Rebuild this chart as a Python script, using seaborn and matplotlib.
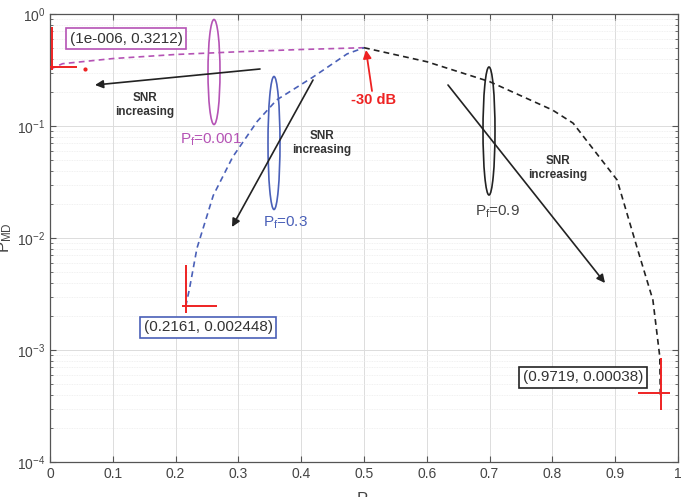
import numpy as np
import pandas as pd
import matplotlib
matplotlib.use("Agg")
import matplotlib.pyplot as plt
from matplotlib.patches import Ellipse
import seaborn as sns

# ---- data ----
pf001_x = [0.000001, 0.02, 0.1, 0.2, 0.3, 0.4, 0.5]
pf001_y = [0.3212, 0.36, 0.40, 0.435, 0.46, 0.482, 0.5]

pf03_x = [0.2161, 0.222, 0.234, 0.26, 0.291, 0.33, 0.361, 0.419, 0.473, 0.5]
pf03_y = [0.002448, 0.0035, 0.0081, 0.024, 0.053, 0.11, 0.171, 0.274, 0.44, 0.5]

pf09_x = [0.5, 0.6, 0.7, 0.8, 0.833, 0.903, 0.936, 0.96, 0.971, 0.9719]
pf09_y = [0.5, 0.375, 0.249, 0.139, 0.106, 0.033, 0.0078, 0.0028, 0.00087, 0.00038]

series_names = ["Pf=0.001", "Pf=0.3", "Pf=0.9"]
series_colors = ["#b553b5", "#4a60b8", "#222222"]
x_ticks = [0, 0.1, 0.2, 0.3, 0.4, 0.5, 0.6, 0.7, 0.8, 0.9, 1]
x_tick_labels = ["0", "0.1", "0.2", "0.3", "0.4", "0.5", "0.6", "0.7", "0.8", "0.9", "1"]

df = pd.concat([
    pd.DataFrame({"x": pf001_x, "y": pf001_y, "s": series_names[0]}),
    pd.DataFrame({"x": pf03_x, "y": pf03_y, "s": series_names[1]}),
    pd.DataFrame({"x": pf09_x, "y": pf09_y, "s": series_names[2]}),
], ignore_index=True)

sns.set_style("ticks")
plt.rcParams["font.family"] = ["Liberation Sans", "DejaVu Sans"]
plt.rcParams["mathtext.fontset"] = "custom"
plt.rcParams["mathtext.rm"] = "Liberation Sans"
plt.rcParams["mathtext.it"] = "Liberation Sans"
plt.rcParams["mathtext.bf"] = "Liberation Sans:bold"

W, H = 684, 497
fig = plt.figure(figsize=(W / 100, H / 100), dpi=100)
AX_L, AX_R, AX_T, AX_B = 50, 678, 14, 462
ax = fig.add_axes([AX_L / W, 1 - AX_B / H, (AX_R - AX_L) / W, (AX_B - AX_T) / H])

def px(x, y):
    return ((x - AX_L) / (AX_R - AX_L), 1 - (y - AX_T) / (AX_B - AX_T))

sns.lineplot(data=df, x="x", y="y", hue="s", palette=series_colors, sort=False,
             estimator=None, units="s", ax=ax, legend=False, linewidth=1.2)
for ln in ax.get_lines():
    ln.set_linestyle((0, (3.5, 2.5)))

ax.set_yscale("log")
ax.set_xlim(0, 1)
ax.set_ylim(1e-4, 1)
ax.set_xticks(x_ticks)
ax.set_xticklabels(x_tick_labels)
ax.set_yticks([1e-4, 1e-3, 1e-2, 1e-1, 1])

ax.grid(True, which="major", color="#dcdcdc", linewidth=0.7)
ax.grid(True, which="minor", axis="y", color="#ececec", linewidth=0.6, linestyle=(0, (1, 1)))
ax.set_axisbelow(True)
ax.tick_params(which="both", direction="in", top=True, right=True, colors="#555555",
               labelcolor="#444444", labelsize=10)
ax.tick_params(which="major", length=4)
ax.tick_params(which="minor", length=2.5)
for sp in ax.spines.values():
    sp.set_color("#555555")
    sp.set_linewidth(0.9)

ax.set_xlabel("$P_{f}$", fontsize=12, color="#444444", labelpad=7)
ax.set_ylabel("$P_{MD}$", fontsize=12, color="#444444")
ax.yaxis.set_label_coords(-0.058, 0.5)

# ellipses
for (cx, cy, ew, eh, col) in [(214, 72, 12, 105, series_colors[0]),
                              (274, 143, 12, 133, series_colors[1]),
                              (489, 131, 12, 128, series_colors[2])]:
    xa, ya = px(cx, cy)
    ax.add_patch(Ellipse((xa, ya), ew / (AX_R - AX_L), eh / (AX_B - AX_T),
                         transform=ax.transAxes, fill=False, edgecolor=col, linewidth=1.2))

# arrows
arrowprops = dict(arrowstyle="-|>", color="#222222", lw=1.2, mutation_scale=12, shrinkA=0, shrinkB=0)
for (x0, y0, x1, y1) in [(260, 69, 95, 85), (313, 80, 232, 227), (448, 85, 605, 283)]:
    ax.annotate("", xy=px(x1, y1), xytext=px(x0, y0), xycoords="axes fraction",
                textcoords="axes fraction", arrowprops=arrowprops)
ax.annotate("", xy=px(366, 50), xytext=px(372, 91), xycoords="axes fraction",
            textcoords="axes fraction",
            arrowprops=dict(arrowstyle="-|>", color="#ee2222", lw=1.3, mutation_scale=12,
                            shrinkA=0, shrinkB=0))

# texts
for (cx, cy) in [(145, 105), (322, 143), (558, 168)]:
    ax.text(*px(cx, cy), "SNR\nincreasing", transform=ax.transAxes, ha="center", va="center",
            fontsize=8.5, fontweight="bold", color="#333333", linespacing=1.2)
ax.text(*px(211, 140), "$P_{f}$=0.001", transform=ax.transAxes, ha="center", va="center",
        fontsize=11, color=series_colors[0])
ax.text(*px(285, 223), "$P_{f}$=0.3", transform=ax.transAxes, ha="center", va="center",
        fontsize=11, color=series_colors[1])
ax.text(*px(497, 212), "$P_{f}$=0.9", transform=ax.transAxes, ha="center", va="center",
        fontsize=11, color="#444444")
ax.text(*px(373, 100), "-30 dB", transform=ax.transAxes, ha="center", va="center",
        fontsize=10.5, fontweight="bold", color="#ee2222")

# data tip boxes
box_specs = [(f"({pf001_x[0]:.0e}".replace("e-0", "e-00") + f", {pf001_y[0]:.4f})", 126, 38.5, series_colors[0]),
             (f"({pf03_x[0]:.4f}, {pf03_y[0]:.6f})", 208, 327.5, series_colors[1]),
             (f"({pf09_x[-1]:.4f}, {pf09_y[-1]:.5f})", 583, 377.5, "#222222")]
for (txt, cx, cy, col) in box_specs:
    ax.text(*px(cx, cy), txt, transform=ax.transAxes, ha="center", va="center",
            fontsize=11, color="#333333",
            bbox=dict(boxstyle="square,pad=0.25", facecolor="white", edgecolor=col, linewidth=1.2))

# red data-tip crosshairs
red = "#ee2222"
for (xa, ya, xb, yb) in [(51.5, 27, 51.5, 70), (50, 67, 77, 67),
                         (186, 265, 186, 313), (182, 306, 217, 306),
                         (661, 358, 661, 410), (638, 393, 670, 393)]:
    p0, p1 = px(xa, ya), px(xb, yb)
    ax.plot([p0[0], p1[0]], [p0[1], p1[1]], color=red, lw=1.4, transform=ax.transAxes,
            clip_on=False, solid_capstyle="butt", zorder=5)
ax.plot(*px(85, 69), marker="o", ms=2, color=red, transform=ax.transAxes, zorder=5)

fig.savefig("out.png", dpi=100)
